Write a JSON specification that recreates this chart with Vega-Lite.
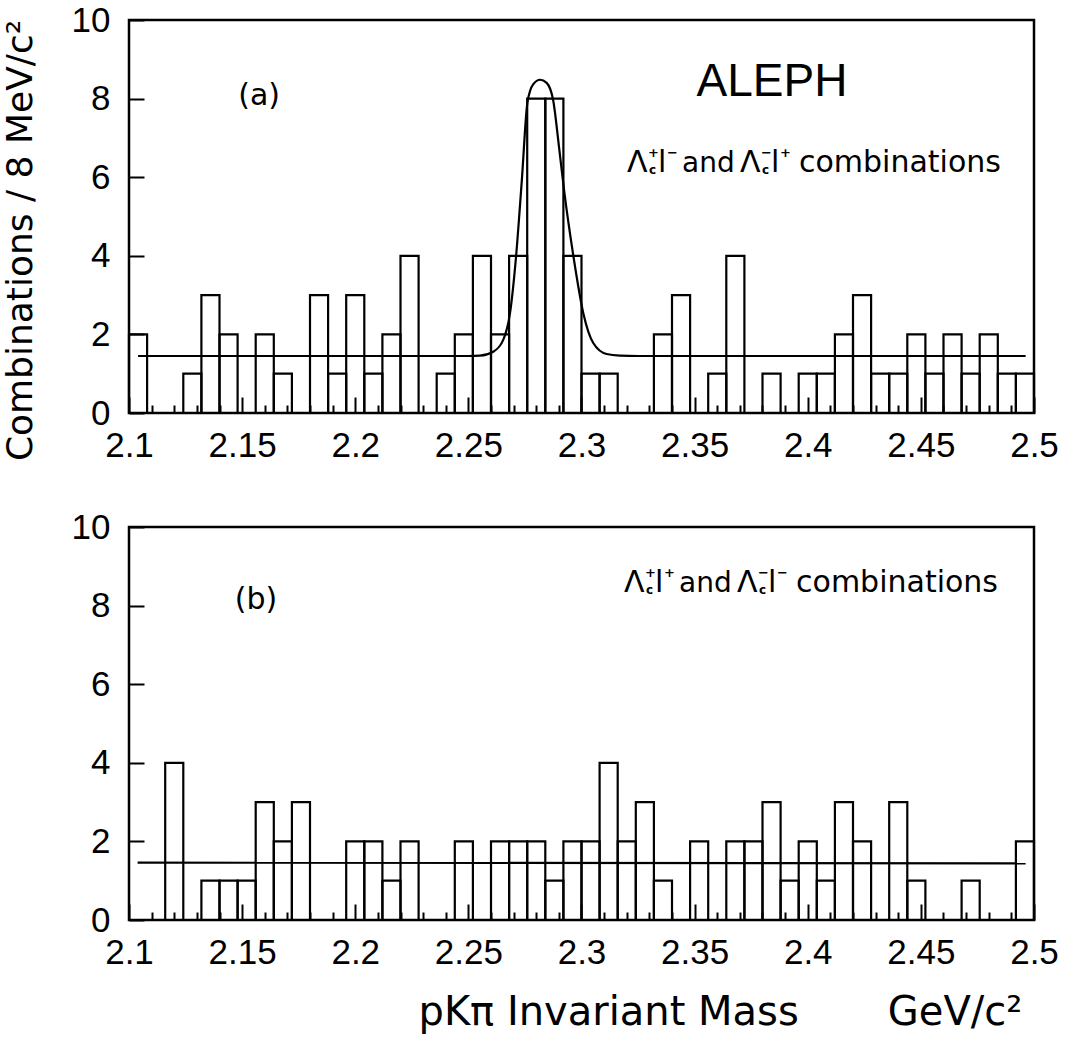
{
  "$schema": "https://vega.github.io/schema/vega-lite/v6.json",
  "background": "white",
  "padding": {"left": 0, "top": 1, "right": 0, "bottom": 0},
  "bounds": "flush",
  "spacing": 114,
  "datasets": {
    "histA": [
      {"lo":2.100,"hi":2.108,"n":2},{"lo":2.108,"hi":2.116,"n":0},{"lo":2.116,"hi":2.124,"n":0},{"lo":2.124,"hi":2.132,"n":1},{"lo":2.132,"hi":2.140,"n":3},
      {"lo":2.140,"hi":2.148,"n":2},{"lo":2.148,"hi":2.156,"n":0},{"lo":2.156,"hi":2.164,"n":2},{"lo":2.164,"hi":2.172,"n":1},{"lo":2.172,"hi":2.180,"n":0},
      {"lo":2.180,"hi":2.188,"n":3},{"lo":2.188,"hi":2.196,"n":1},{"lo":2.196,"hi":2.204,"n":3},{"lo":2.204,"hi":2.212,"n":1},{"lo":2.212,"hi":2.220,"n":2},
      {"lo":2.220,"hi":2.228,"n":4},{"lo":2.228,"hi":2.236,"n":0},{"lo":2.236,"hi":2.244,"n":1},{"lo":2.244,"hi":2.252,"n":2},{"lo":2.252,"hi":2.260,"n":4},
      {"lo":2.260,"hi":2.268,"n":2},{"lo":2.268,"hi":2.276,"n":4},{"lo":2.276,"hi":2.284,"n":8},{"lo":2.284,"hi":2.292,"n":8},{"lo":2.292,"hi":2.300,"n":4},
      {"lo":2.300,"hi":2.308,"n":1},{"lo":2.308,"hi":2.316,"n":1},{"lo":2.316,"hi":2.324,"n":0},{"lo":2.324,"hi":2.332,"n":0},{"lo":2.332,"hi":2.340,"n":2},
      {"lo":2.340,"hi":2.348,"n":3},{"lo":2.348,"hi":2.356,"n":0},{"lo":2.356,"hi":2.364,"n":1},{"lo":2.364,"hi":2.372,"n":4},{"lo":2.372,"hi":2.380,"n":0},
      {"lo":2.380,"hi":2.388,"n":1},{"lo":2.388,"hi":2.396,"n":0},{"lo":2.396,"hi":2.404,"n":1},{"lo":2.404,"hi":2.412,"n":1},{"lo":2.412,"hi":2.420,"n":2},
      {"lo":2.420,"hi":2.428,"n":3},{"lo":2.428,"hi":2.436,"n":1},{"lo":2.436,"hi":2.444,"n":1},{"lo":2.444,"hi":2.452,"n":2},{"lo":2.452,"hi":2.460,"n":1},
      {"lo":2.460,"hi":2.468,"n":2},{"lo":2.468,"hi":2.476,"n":1},{"lo":2.476,"hi":2.484,"n":2},{"lo":2.484,"hi":2.492,"n":1},{"lo":2.492,"hi":2.500,"n":1}
    ],
    "histB": [
      {"lo":2.100,"hi":2.108,"n":0},{"lo":2.108,"hi":2.116,"n":0},{"lo":2.116,"hi":2.124,"n":4},{"lo":2.124,"hi":2.132,"n":0},{"lo":2.132,"hi":2.140,"n":1},
      {"lo":2.140,"hi":2.148,"n":1},{"lo":2.148,"hi":2.156,"n":1},{"lo":2.156,"hi":2.164,"n":3},{"lo":2.164,"hi":2.172,"n":2},{"lo":2.172,"hi":2.180,"n":3},
      {"lo":2.180,"hi":2.188,"n":0},{"lo":2.188,"hi":2.196,"n":0},{"lo":2.196,"hi":2.204,"n":2},{"lo":2.204,"hi":2.212,"n":2},{"lo":2.212,"hi":2.220,"n":1},
      {"lo":2.220,"hi":2.228,"n":2},{"lo":2.228,"hi":2.236,"n":0},{"lo":2.236,"hi":2.244,"n":0},{"lo":2.244,"hi":2.252,"n":2},{"lo":2.252,"hi":2.260,"n":0},
      {"lo":2.260,"hi":2.268,"n":2},{"lo":2.268,"hi":2.276,"n":2},{"lo":2.276,"hi":2.284,"n":2},{"lo":2.284,"hi":2.292,"n":1},{"lo":2.292,"hi":2.300,"n":2},
      {"lo":2.300,"hi":2.308,"n":2},{"lo":2.308,"hi":2.316,"n":4},{"lo":2.316,"hi":2.324,"n":2},{"lo":2.324,"hi":2.332,"n":3},{"lo":2.332,"hi":2.340,"n":1},
      {"lo":2.340,"hi":2.348,"n":0},{"lo":2.348,"hi":2.356,"n":2},{"lo":2.356,"hi":2.364,"n":0},{"lo":2.364,"hi":2.372,"n":2},{"lo":2.372,"hi":2.380,"n":2},
      {"lo":2.380,"hi":2.388,"n":3},{"lo":2.388,"hi":2.396,"n":1},{"lo":2.396,"hi":2.404,"n":2},{"lo":2.404,"hi":2.412,"n":1},{"lo":2.412,"hi":2.420,"n":3},
      {"lo":2.420,"hi":2.428,"n":2},{"lo":2.428,"hi":2.436,"n":0},{"lo":2.436,"hi":2.444,"n":3},{"lo":2.444,"hi":2.452,"n":1},{"lo":2.452,"hi":2.460,"n":0},
      {"lo":2.460,"hi":2.468,"n":0},{"lo":2.468,"hi":2.476,"n":1},{"lo":2.476,"hi":2.484,"n":0},{"lo":2.484,"hi":2.492,"n":0},{"lo":2.492,"hi":2.500,"n":2}
    ],
    "fitA": [
      {"m":2.104,"f":1.45},{"m":2.250,"f":1.45},{"m":2.2551,"f":1.46},{"m":2.261,"f":1.56},{"m":2.2654,"f":1.86},
      {"m":2.2684,"f":2.54},{"m":2.2711,"f":4.0},{"m":2.2736,"f":5.9},{"m":2.2761,"f":7.9},{"m":2.2787,"f":8.37},
      {"m":2.2817,"f":8.48},{"m":2.2846,"f":8.4},{"m":2.2875,"f":7.95},{"m":2.290,"f":6.8},{"m":2.2923,"f":5.67},
      {"m":2.2964,"f":4.0},{"m":2.3008,"f":2.54},{"m":2.3052,"f":1.78},{"m":2.3111,"f":1.5},{"m":2.317,"f":1.46},
      {"m":2.325,"f":1.45},{"m":2.4963,"f":1.45}
    ],
    "fitB": [
      {"m":2.1038,"f":1.46},{"m":2.4963,"f":1.44}
    ],
    "notes": [
      {"panel":"a","x":2.3201,"y":6.13},
      {"panel":"b","x":2.3188,"y":8.34}
    ]
  },
  "vconcat": [
    {
      "width": 905,
      "height": 393,
      "resolve": {"axis": {"x": "independent"}},
      "layer": [
        {
          "data": {"name": "histA"},
          "mark": {"type": "rect", "fill": "white", "fillOpacity": 0, "stroke": "black", "strokeWidth": 2.2},
          "encoding": {
            "x": {"field": "lo", "type": "quantitative", "scale": {"domain": [2.1, 2.5], "nice": false, "zero": false},
                  "axis": {"orient": "bottom", "values": [2.1,2.15,2.2,2.25,2.3,2.35,2.4,2.45,2.5], "format": ".3~g", "tickSize": -16, "labelPadding": 31, "labelBaseline": "top", "title": null}},
            "x2": {"field": "hi"},
            "y": {"field": "n", "type": "quantitative", "scale": {"domain": [0, 10], "nice": false, "zero": false},
                  "axis": {"orient": "left", "values": [0,2,4,6,8,10], "tickSize": -15, "labelPadding": 34, "title": "Combinations / 8 MeV/c²", "titleFontSize": 36, "titleX": -98, "titleY": 220, "titleAngle": -90, "titleAlign": "center", "titleBaseline": "alphabetic"}},
            "y2": {"datum": 0}
          }
        },
        {
          "data": {"name": "fitA"},
          "mark": {"type": "line", "stroke": "black", "strokeWidth": 2.2, "interpolate": "monotone"},
          "encoding": {
            "x": {"field": "m", "type": "quantitative", "scale": {"domain": [2.1, 2.5], "nice": false, "zero": false},
                  "axis": {"orient": "bottom", "values": [2.11,2.12,2.13,2.14,2.16,2.17,2.18,2.19,2.21,2.22,2.23,2.24,2.26,2.27,2.28,2.29,2.31,2.32,2.33,2.34,2.36,2.37,2.38,2.39,2.41,2.42,2.43,2.44,2.46,2.47,2.48,2.49], "tickSize": -8, "labels": false, "title": null}},
            "y": {"field": "f", "type": "quantitative"}
          }
        },
        {
          "data": {"values": [{"x": 2.1575, "y": 8.07, "t": "(a)"}]},
          "mark": {"type": "text", "font": "DejaVu Sans", "fontSize": 30, "align": "center", "baseline": "middle", "fill": "black"},
          "encoding": {"x": {"field": "x", "type": "quantitative", "axis": null}, "y": {"field": "y", "type": "quantitative"}, "text": {"field": "t"}}
        },
        {
          "data": {"values": [{"x": 2.3842, "y": 8.42, "t": "ALEPH"}]},
          "mark": {"type": "text", "font": "Liberation Sans", "fontSize": 46, "align": "center", "baseline": "middle", "fill": "black"},
          "encoding": {"x": {"field": "x", "type": "quantitative", "axis": null}, "y": {"field": "y", "type": "quantitative"}, "text": {"field": "t"}}
        },
        {
          "data": {"name": "notes"},
          "transform": [{"filter": "datum.panel == 'a'"}],
          "encoding": {"x": {"field": "x", "type": "quantitative", "axis": null}, "y": {"field": "y", "type": "quantitative"}},
          "layer": [
            {"mark": {"type": "text", "text": "Λ", "font": "DejaVu Sans", "fontSize": 30, "align": "left", "baseline": "alphabetic", "dx": 0, "fill": "black"}},
            {"mark": {"type": "text", "text": "+", "font": "DejaVu Sans", "fontSize": 13, "fontWeight": "bold", "align": "left", "baseline": "alphabetic", "dx": 21, "dy": -15, "fill": "black"}},
            {"mark": {"type": "text", "text": "c", "font": "DejaVu Sans", "fontSize": 12, "fontWeight": "bold", "align": "left", "baseline": "alphabetic", "dx": 22, "dy": 2, "fill": "black"}},
            {"mark": {"type": "text", "text": "l", "font": "DejaVu Sans", "fontSize": 30, "align": "left", "baseline": "alphabetic", "dx": 31, "fill": "black"}},
            {"mark": {"type": "text", "text": "−", "font": "DejaVu Sans", "fontSize": 13, "fontWeight": "bold", "align": "left", "baseline": "alphabetic", "dx": 40, "dy": -15, "fill": "black"}},
            {"mark": {"type": "text", "text": "and", "font": "DejaVu Sans", "fontSize": 28, "align": "left", "baseline": "alphabetic", "dx": 55, "fill": "black"}},
            {"mark": {"type": "text", "text": "Λ", "font": "DejaVu Sans", "fontSize": 30, "align": "left", "baseline": "alphabetic", "dx": 113, "fill": "black"}},
            {"mark": {"type": "text", "text": "−", "font": "DejaVu Sans", "fontSize": 13, "fontWeight": "bold", "align": "left", "baseline": "alphabetic", "dx": 134, "dy": -15, "fill": "black"}},
            {"mark": {"type": "text", "text": "c", "font": "DejaVu Sans", "fontSize": 12, "fontWeight": "bold", "align": "left", "baseline": "alphabetic", "dx": 135, "dy": 2, "fill": "black"}},
            {"mark": {"type": "text", "text": "l", "font": "DejaVu Sans", "fontSize": 30, "align": "left", "baseline": "alphabetic", "dx": 144, "fill": "black"}},
            {"mark": {"type": "text", "text": "+", "font": "DejaVu Sans", "fontSize": 13, "fontWeight": "bold", "align": "left", "baseline": "alphabetic", "dx": 153, "dy": -15, "fill": "black"}},
            {"mark": {"type": "text", "text": "combinations", "font": "DejaVu Sans", "fontSize": 30, "align": "left", "baseline": "alphabetic", "dx": 172, "fill": "black"}}
          ]
        }
      ]
    },
    {
      "width": 905,
      "height": 393,
      "resolve": {"axis": {"x": "independent"}},
      "layer": [
        {
          "data": {"name": "histB"},
          "mark": {"type": "rect", "fill": "white", "fillOpacity": 0, "stroke": "black", "strokeWidth": 2.2},
          "encoding": {
            "x": {"field": "lo", "type": "quantitative", "scale": {"domain": [2.1, 2.5], "nice": false, "zero": false},
                  "axis": {"orient": "bottom", "values": [2.1,2.15,2.2,2.25,2.3,2.35,2.4,2.45,2.5], "format": ".3~g", "tickSize": -16, "labelPadding": 31, "labelBaseline": "top",
                           "title": "pKπ Invariant Mass\u00a0\u00a0\u00a0\u00a0\u00a0\u00a0\u00a0GeV/c²", "titleFontSize": 40, "titleX": 289, "titleY": 104, "titleAlign": "left", "titleAnchor": "start", "titleBaseline": "alphabetic"}},
            "x2": {"field": "hi"},
            "y": {"field": "n", "type": "quantitative", "scale": {"domain": [0, 10], "nice": false, "zero": false},
                  "axis": {"orient": "left", "values": [0,2,4,6,8,10], "tickSize": -15, "labelPadding": 34, "title": null}},
            "y2": {"datum": 0}
          }
        },
        {
          "data": {"name": "fitB"},
          "mark": {"type": "line", "stroke": "black", "strokeWidth": 2.2},
          "encoding": {
            "x": {"field": "m", "type": "quantitative", "scale": {"domain": [2.1, 2.5], "nice": false, "zero": false},
                  "axis": {"orient": "bottom", "values": [2.11,2.12,2.13,2.14,2.16,2.17,2.18,2.19,2.21,2.22,2.23,2.24,2.26,2.27,2.28,2.29,2.31,2.32,2.33,2.34,2.36,2.37,2.38,2.39,2.41,2.42,2.43,2.44,2.46,2.47,2.48,2.49], "tickSize": -8, "labels": false, "title": null}},
            "y": {"field": "f", "type": "quantitative"}
          }
        },
        {
          "data": {"values": [{"x": 2.1561, "y": 8.14, "t": "(b)"}]},
          "mark": {"type": "text", "font": "DejaVu Sans", "fontSize": 30, "align": "center", "baseline": "middle", "fill": "black"},
          "encoding": {"x": {"field": "x", "type": "quantitative", "axis": null}, "y": {"field": "y", "type": "quantitative"}, "text": {"field": "t"}}
        },
        {
          "data": {"name": "notes"},
          "transform": [{"filter": "datum.panel == 'b'"}],
          "encoding": {"x": {"field": "x", "type": "quantitative", "axis": null}, "y": {"field": "y", "type": "quantitative"}},
          "layer": [
            {"mark": {"type": "text", "text": "Λ", "font": "DejaVu Sans", "fontSize": 30, "align": "left", "baseline": "alphabetic", "dx": 0, "fill": "black"}},
            {"mark": {"type": "text", "text": "+", "font": "DejaVu Sans", "fontSize": 13, "fontWeight": "bold", "align": "left", "baseline": "alphabetic", "dx": 21, "dy": -15, "fill": "black"}},
            {"mark": {"type": "text", "text": "c", "font": "DejaVu Sans", "fontSize": 12, "fontWeight": "bold", "align": "left", "baseline": "alphabetic", "dx": 22, "dy": 2, "fill": "black"}},
            {"mark": {"type": "text", "text": "l", "font": "DejaVu Sans", "fontSize": 30, "align": "left", "baseline": "alphabetic", "dx": 31, "fill": "black"}},
            {"mark": {"type": "text", "text": "+", "font": "DejaVu Sans", "fontSize": 13, "fontWeight": "bold", "align": "left", "baseline": "alphabetic", "dx": 40, "dy": -15, "fill": "black"}},
            {"mark": {"type": "text", "text": "and", "font": "DejaVu Sans", "fontSize": 28, "align": "left", "baseline": "alphabetic", "dx": 55, "fill": "black"}},
            {"mark": {"type": "text", "text": "Λ", "font": "DejaVu Sans", "fontSize": 30, "align": "left", "baseline": "alphabetic", "dx": 113, "fill": "black"}},
            {"mark": {"type": "text", "text": "−", "font": "DejaVu Sans", "fontSize": 13, "fontWeight": "bold", "align": "left", "baseline": "alphabetic", "dx": 134, "dy": -15, "fill": "black"}},
            {"mark": {"type": "text", "text": "c", "font": "DejaVu Sans", "fontSize": 12, "fontWeight": "bold", "align": "left", "baseline": "alphabetic", "dx": 135, "dy": 2, "fill": "black"}},
            {"mark": {"type": "text", "text": "l", "font": "DejaVu Sans", "fontSize": 30, "align": "left", "baseline": "alphabetic", "dx": 144, "fill": "black"}},
            {"mark": {"type": "text", "text": "−", "font": "DejaVu Sans", "fontSize": 13, "fontWeight": "bold", "align": "left", "baseline": "alphabetic", "dx": 153, "dy": -15, "fill": "black"}},
            {"mark": {"type": "text", "text": "combinations", "font": "DejaVu Sans", "fontSize": 30, "align": "left", "baseline": "alphabetic", "dx": 172, "fill": "black"}}
          ]
        }
      ]
    }
  ],
  "config": {
    "view": {"stroke": "black", "strokeWidth": 2.5},
    "axis": {"domain": false, "grid": false, "tickColor": "black", "tickWidth": 2, "labelColor": "black", "labelFont": "Liberation Sans", "labelFontSize": 35,
             "titleColor": "black", "titleFont": "DejaVu Sans", "titleFontWeight": "normal", "labelFlush": false, "labelOverlap": false, "labelBound": false}
  }
}
